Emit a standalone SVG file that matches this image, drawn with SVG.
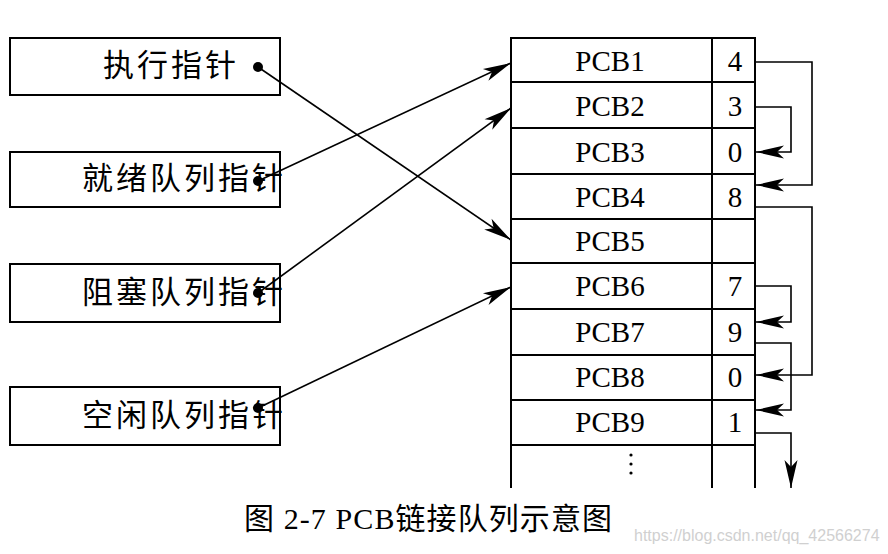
<svg xmlns="http://www.w3.org/2000/svg" width="888" height="554" viewBox="0 0 888 554">
<defs>
<marker id="ah" markerUnits="userSpaceOnUse" markerWidth="40" markerHeight="20" viewBox="-30 -10 32 20" refX="0" refY="0" orient="auto">
<path d="M0,0 L-28,-6.5 L-21,0 L-28,6.5 Z" fill="#000"/>
</marker>
</defs>
<style>
.box{fill:#fff;stroke:#000;stroke-width:2}
.ln{stroke:#000;stroke-width:2;fill:none}
.cn{stroke:#000;stroke-width:1.6;fill:none;marker-end:url(#ah)}
.cjk{font-family:"Noto Sans CJK SC",sans-serif;font-size:31px;letter-spacing:3px;fill:#000}
.pcb{font-family:"Liberation Serif",serif;font-size:29px;fill:#000;text-anchor:middle}
.cap{font-family:"Liberation Serif","Noto Sans CJK SC",serif;font-size:30px;fill:#000}
.wm{font-family:"Liberation Sans",sans-serif;font-size:16px;fill:#d0d0d0}
</style>
<rect width="888" height="554" fill="#fff"/>
<g id="exec"><rect class="box" x="10" y="38" width="270" height="57"/><text class="cjk" x="103" y="76">执行指针</text></g>
<g id="ready"><rect class="box" x="10" y="152" width="270" height="55"/><text class="cjk" x="82" y="189">就绪队列指针</text></g>
<g id="block"><rect class="box" x="10" y="264" width="270" height="58"/><text class="cjk" x="82" y="303">阻塞队列指针</text></g>
<g id="free"><rect class="box" x="10" y="387" width="270" height="58"/><text class="cjk" x="82" y="426">空闲队列指针</text></g>
<g id="table">
<path class="ln" d="M511,488 V38 H755 V488 M712,38 V488 M511,82 H755 M511,128 H755 M511,174 H755 M511,219 H755 M511,263 H755 M511,309 H755 M511,355 H755 M511,400 H755 M511,445 H755"/>
<text class="pcb" x="610" y="71">PCB1</text><text class="pcb" x="735" y="71">4</text>
<text class="pcb" x="610" y="116">PCB2</text><text class="pcb" x="735" y="116">3</text>
<text class="pcb" x="610" y="162">PCB3</text><text class="pcb" x="735" y="162">0</text>
<text class="pcb" x="610" y="207">PCB4</text><text class="pcb" x="735" y="207">8</text>
<text class="pcb" x="610" y="251">PCB5</text>
<text class="pcb" x="610" y="296">PCB6</text><text class="pcb" x="735" y="296">7</text>
<text class="pcb" x="610" y="342">PCB7</text><text class="pcb" x="735" y="342">9</text>
<text class="pcb" x="610" y="387">PCB8</text><text class="pcb" x="735" y="387">0</text>
<text class="pcb" x="610" y="432">PCB9</text><text class="pcb" x="735" y="432">1</text>
<circle cx="631" cy="455" r="1.6"/><circle cx="631" cy="464" r="1.6"/><circle cx="631" cy="473" r="1.6"/>
</g>
<g id="connectors">
<circle cx="258" cy="67" r="5"/><circle cx="258" cy="181" r="5"/><circle cx="258" cy="293" r="5"/><circle cx="258" cy="408" r="5"/>
<path class="cn" d="M258,67 L511,240"/>
<path class="cn" d="M258,181 L511,63"/>
<path class="cn" d="M258,293 L511,108"/>
<path class="cn" d="M258,408 L511,287"/>
<path class="cn" d="M755,62 H812 V185 H756"/>
<path class="cn" d="M755,107 H791 V152 H756"/>
<path class="cn" d="M755,207 H812 V375 H756"/>
<path class="cn" d="M755,286 H791 V322 H756"/>
<path class="cn" d="M755,343 H791 V410 H756"/>
<path class="cn" d="M755,433 H791 V488"/>
</g>
<text class="cap" x="244" y="529" textLength="368" lengthAdjust="spacing">图 2-7 PCB链接队列示意图</text>
<text class="wm" x="634" y="541">https://blog.csdn.net/qq_42566274</text>
</svg>
